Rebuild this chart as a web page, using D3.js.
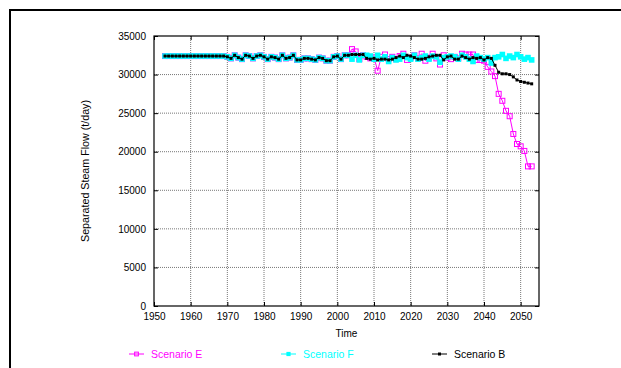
<!DOCTYPE html>
<html>
<head>
<meta charset="utf-8">
<script src="https://cdn.jsdelivr.net/npm/d3@7"></script>
<style>
  html, body { margin: 0; padding: 0; background: #fff; }
  svg { display: block; }
  text { font-family: "Liberation Sans", Arial, Helvetica, sans-serif; }
</style>
</head>
<body>
<svg id="chart" width="621" height="368"></svg>
<script>
// Annual separated steam flow (t/day), 1953-2053
const years = d3.range(1953, 2054);

const baseEarly = [
  32400,32400,32400,32400,32400,32400,32400,32400,32400,32400,32400,32400,32400,32400,32400,32400,32400,
  32300,32100,32500,32200,32000,32500,32400,32100,32400,32500,
  32300,32000,32300,32200,32000,32500,32100,32200,32500,31900,
  31900,32100,32100,32000,31900,32200,32100,31800,31800,32300,
  32400,32000
]; // 1953-2001

const scenarioB = baseEarly.concat([
  32500,32500,32600,32600,32600,32600,32100,32000,
  32100,31900,32000,32000,31900,32000,32200,32400,32200,32500,
  32400,32200,32000,32000,32100,32300,32400,32500,32500,31900,
  32300,32400,32000,32000,32400,32200,32000,32200,32100,32200,
  31900,32200,32100,31200,30300,30100,30100,30000,29700,29300,
  29100,29000,28900,28800
]);

const scenarioE = baseEarly.concat([
  32500,32500,33300,33000,32000,32500,32300,32100,
  32200,30500,32300,32600,32000,32300,32000,32400,32700,31900,
  32200,32500,32100,32700,31800,32200,32700,32100,31300,32500,
  32200,32000,32300,32100,32700,32600,32600,32600,31900,31900,
  31800,31000,30400,29800,27500,26600,25300,24600,22300,21000,
  20700,20100,18100,18100
]);

const scenarioF = baseEarly.concat([
  32500,32500,32000,32500,31900,32500,32500,32400,
  32000,32500,32000,32300,31700,32200,31900,32000,32500,32200,
  32000,32500,32000,32200,32400,32000,32400,32300,31600,32200,
  32300,32400,32300,32000,32500,32300,32000,31700,32400,32200,
  32000,32200,31500,32200,32300,32600,32100,32400,32200,32600,
  32300,32000,32200,31900
]);

const xTicks = d3.range(1950, 2051, 10);
const yTicks = d3.range(0, 35001, 5000);

const seriesNames = ["Scenario E", "Scenario F", "Scenario B"];
const seriesColors = ["#ff00ff", "#00ffff", "#000000"];
const seriesValues = [scenarioE, scenarioF, scenarioB];

const svg = d3.select("#chart");

// page frame
svg.append("path")
  .attr("d", "M10,368 L10,10 L630,10")
  .attr("fill", "none").attr("stroke", "#000").attr("stroke-width", 2);

const plot = { left: 154, right: 539, top: 36, bottom: 306 };

const x = d3.scaleLinear().domain([1950, 2055]).range([plot.left, plot.right]);
const y = d3.scaleLinear().domain([0, 35000]).range([plot.bottom, plot.top]);

// grid
const grid = svg.append("g");
grid.selectAll("line.vx").data(xTicks.slice(1)).join("line")
  .attr("x1", d => x(d)).attr("x2", d => x(d))
  .attr("y1", plot.top).attr("y2", plot.bottom)
  .attr("stroke", "#777").attr("stroke-dasharray", "1,1");
grid.selectAll("line.hy").data(yTicks.slice(1, -1)).join("line")
  .attr("x1", plot.left).attr("x2", plot.right)
  .attr("y1", d => y(d)).attr("y2", d => y(d))
  .attr("stroke", "#777").attr("stroke-dasharray", "1,1");

// axes (inward ticks, mirrored)
const axL = d3.axisLeft(y).tickValues(yTicks).tickSizeInner(-4).tickSizeOuter(0).tickPadding(8).tickFormat(d3.format("d"));
const axB = d3.axisBottom(x).tickValues(xTicks).tickSizeInner(-4).tickSizeOuter(0).tickPadding(7).tickFormat(d3.format("d"));
const axR = d3.axisRight(y).tickValues(yTicks).tickSizeInner(-4).tickSizeOuter(0).tickFormat("");
const axT = d3.axisTop(x).tickValues(xTicks).tickSizeInner(-4).tickSizeOuter(0).tickFormat("");

function styleAxis(g) {
  g.select(".domain").remove();
  g.selectAll("line").attr("stroke", "#000");
  g.selectAll("text").attr("font-size", 10).attr("fill", "#000")
    .style("font-family", "'Liberation Sans', Arial, sans-serif");
}
svg.append("g").attr("transform", `translate(${plot.left},0)`).call(axL).call(styleAxis);
svg.append("g").attr("transform", `translate(0,${plot.bottom})`).call(axB).call(styleAxis);
svg.append("g").attr("transform", `translate(${plot.right},0)`).call(axR).call(styleAxis);
svg.append("g").attr("transform", `translate(0,${plot.top})`).call(axT).call(styleAxis);

svg.append("rect")
  .attr("x", plot.left).attr("y", plot.top)
  .attr("width", plot.right - plot.left).attr("height", plot.bottom - plot.top)
  .attr("fill", "none").attr("stroke", "#000").attr("stroke-width", 1.2);

// series
const line = d3.line().x(d => x(d[0])).y(d => y(d[1]));

function drawMarker(g, cx, cy, i, s) {
  if (i === 0) {
    const h = 2.5 * s;
    g.append("rect").attr("x", cx - h).attr("y", cy - h).attr("width", 2 * h).attr("height", 2 * h)
      .attr("fill", "none").attr("stroke", seriesColors[i]).attr("stroke-width", 1);
  } else if (i === 1) {
    const h = 2.8 * s;
    g.append("rect").attr("x", cx - h).attr("y", cy - h).attr("width", 2 * h).attr("height", 2 * h)
      .attr("fill", seriesColors[i]);
  } else {
    g.append("rect").attr("x", cx - 1.5).attr("y", cy - 1.5).attr("width", 3).attr("height", 3)
      .attr("fill", seriesColors[i]);
  }
}

seriesValues.forEach((vals, i) => {
  const pts = years.map((yr, k) => [yr, vals[k]]);
  const g = svg.append("g");
  g.append("path").datum(pts).attr("d", line)
    .attr("fill", "none").attr("stroke", seriesColors[i]).attr("stroke-width", 1);
  pts.forEach(p => drawMarker(g, x(p[0]), y(p[1]), i, 1));
});

// axis titles
svg.append("text").attr("x", (plot.left + plot.right) / 2).attr("y", 337)
  .attr("text-anchor", "middle").attr("font-size", 10).text("Time");
svg.append("text").attr("transform", `translate(89,${(plot.top + plot.bottom) / 2}) rotate(-90)`)
  .attr("text-anchor", "middle").attr("font-size", 10.7).text("Separated Steam Flow (t/day)");

// legend
const legendX = [129, 281, 432];
seriesNames.forEach((name, i) => {
  const g = svg.append("g");
  const ly = 354;
  g.append("line").attr("x1", legendX[i]).attr("x2", legendX[i] + 15)
    .attr("y1", ly).attr("y2", ly).attr("stroke", seriesColors[i]).attr("stroke-width", 1);
  drawMarker(g, legendX[i] + 7.5, ly, i, 0.75);
  g.append("text").attr("x", legendX[i] + 22).attr("y", ly + 3.5)
    .attr("font-size", 10.5).attr("fill", seriesColors[i]).text(name);
});
</script>
</body>
</html>
